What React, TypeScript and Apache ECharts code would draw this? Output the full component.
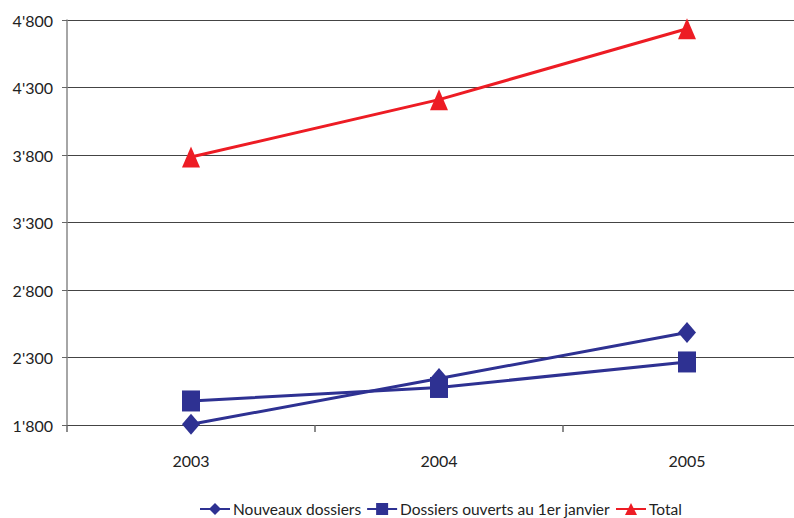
import React, { useEffect, useRef } from "react";
import * as echarts from "echarts";

// Years on the category axis
const years = ["2003", "2004", "2005"];

// Series values
const nouveauxDossiers = [1805, 2145, 2485];
const dossiersOuverts = [1978, 2078, 2267];
const total = [3785, 4210, 4735];

// Value axis range and step
const axisMin = 1800;
const axisMax = 4800;
const axisStep = 500;

const BLUE = "#2E3192";
const RED = "#ED1C24";
const FONT = "Lato, 'Open Sans', sans-serif";

// Ticks are laid out from zero, so the series are shifted by the axis minimum
// and the labels shift back.
const shift = (arr: number[]) => arr.map((v) => v - axisMin);

const fmt = (v: number) => {
  const n = Math.round(v + axisMin);
  return n.toString().replace(/\B(?=(\d{3})+(?!\d))/g, "'");
};

export default function App() {
  const ref = useRef<HTMLDivElement>(null);

  useEffect(() => {
    if (!ref.current) return;
    const chart = echarts.init(ref.current, undefined, { renderer: "svg" });
    chart.setOption({
      animation: false,
      backgroundColor: "#ffffff",
      // the plot runs past the right edge of the canvas
      grid: {
        left: 67,
        top: 20,
        bottom: 93,
        width: 744,
        containLabel: false,
        outerBoundsMode: "none",
      },
      xAxis: {
        type: "category",
        data: years,
        boundaryGap: true,
        axisLine: { show: true, lineStyle: { color: "#444", width: 1 } },
        axisTick: { show: true, length: 7, lineStyle: { color: "#666", width: 1.5 } },
        axisLabel: { margin: 27, fontSize: 16, color: "#222", fontFamily: FONT },
        splitLine: { show: false },
      },
      yAxis: {
        type: "value",
        min: 0,
        max: axisMax - axisMin,
        interval: axisStep,
        axisLine: { show: true, lineStyle: { color: "#888", width: 1.5 } },
        axisTick: { show: true, length: 5, lineStyle: { color: "#666", width: 1 } },
        axisLabel: {
          margin: 14,
          fontSize: 16,
          color: "#222",
          fontFamily: FONT,
          formatter: fmt,
        },
        splitLine: { show: true, lineStyle: { color: "#444", width: 1 } },
      },
      legend: {
        left: 194,
        top: 496,
        itemWidth: 30,
        itemHeight: 15,
        itemGap: 5,
        textStyle: { fontSize: 15.5, color: "#222", fontFamily: FONT, padding: [0, 0, 0, -2] },
        data: ["Nouveaux dossiers", "Dossiers ouverts au 1er janvier", "Total"],
      },
      series: [
        {
          name: "Nouveaux dossiers",
          type: "line",
          data: shift(nouveauxDossiers),
          symbol: "diamond",
          symbolSize: [18, 21],
          lineStyle: { color: BLUE, width: 3 },
          itemStyle: { color: BLUE },
          z: 2,
        },
        {
          name: "Dossiers ouverts au 1er janvier",
          type: "line",
          data: shift(dossiersOuverts),
          symbol: "rect",
          symbolSize: [18, 21],
          lineStyle: { color: BLUE, width: 3 },
          itemStyle: { color: BLUE },
          z: 3,
        },
        {
          name: "Total",
          type: "line",
          data: shift(total),
          symbol: "triangle",
          symbolSize: [18, 21],
          lineStyle: { color: RED, width: 3 },
          itemStyle: { color: RED },
          z: 4,
        },
      ],
    });
    return () => chart.dispose();
  }, []);

  return (
    <div
      ref={ref}
      style={{ position: "fixed", left: 0, top: 0, width: 794, height: 518 }}
    />
  );
}
